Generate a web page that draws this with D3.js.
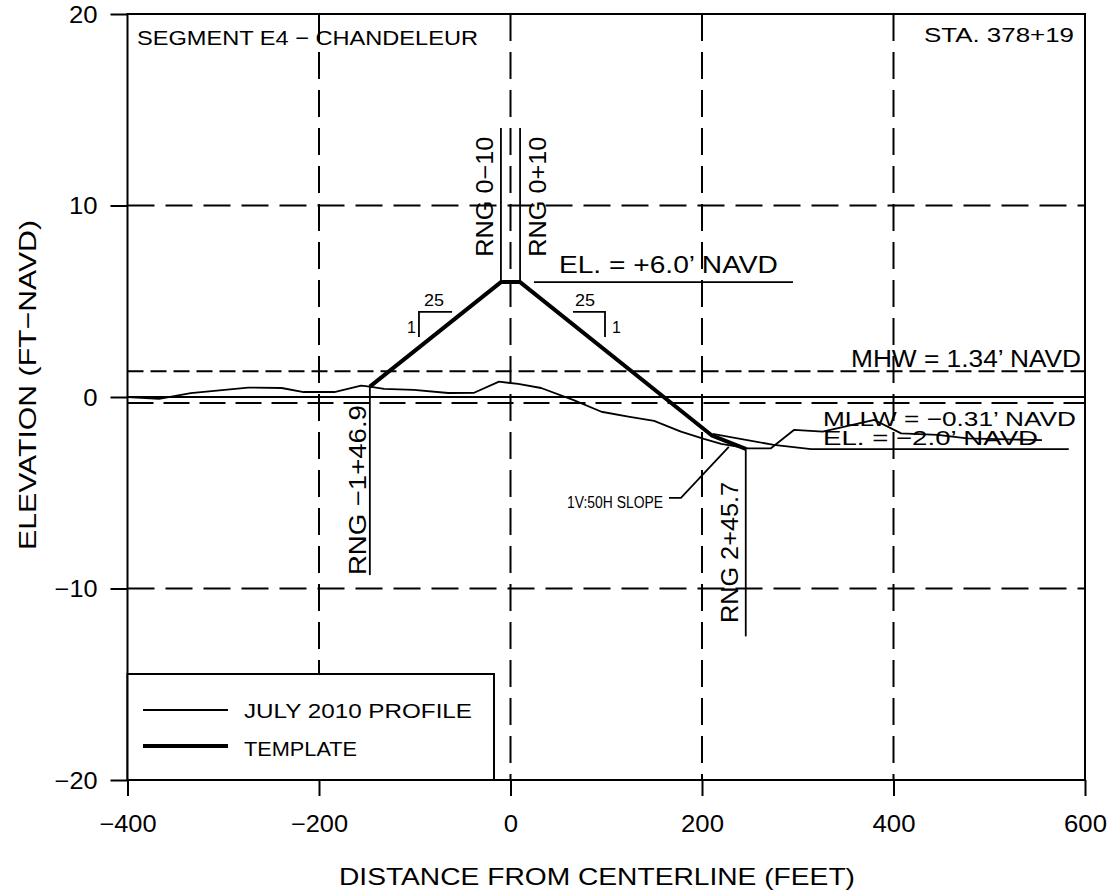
<!DOCTYPE html>
<html><head><meta charset="utf-8">
<script src="https://cdn.jsdelivr.net/npm/d3@7"></script>
<style>
body{margin:0;background:#fff}
svg{display:block}
text{font-family:"Liberation Sans",Arial,sans-serif;fill:#000}
</style>
</head><body><svg id="c" width="1109" height="894"></svg>
<script>
// ---- data ----
const xTicks = [-400, -200, 0, 200, 400, 600];
const yTicks = [-20, -10, 0, 10, 20];
const gridX = [-200, 0, 200, 400];
const gridY = [-10, 10];
const MHW = 1.34, MLLW = -0.31;

const profileX = [-400, -367, -334, -274, -239, -216, -184, -156, -147, -132, -101, -65, -38, -12, 8, 32, 66, 95, 123, 150, 178, 202, 220, 248, 272, 296, 326, 380, 408, 446, 477, 555];
const profileY = [0.0, -0.1, 0.2, 0.49, 0.47, 0.26, 0.26, 0.59, 0.54, 0.42, 0.37, 0.21, 0.22, 0.8, 0.68, 0.47, -0.16, -0.77, -1.03, -1.25, -1.81, -2.19, -2.45, -2.68, -2.68, -1.72, -1.81, -1.2, -1.9, -1.98, -2.16, -2.25];

const toeX = [211, 275, 314, 583];
const toeY = [-1.93, -2.5, -2.72, -2.72];

const templateX = [-146.9, -10, 10, 210, 245.7];
const templateY = [0.54, 6, 6, -2, -2.71];

const rangeLines = [
  {x: -10, y0: 6, y1: 14.05},
  {x: 10, y0: 6, y1: 14.05},
  {x: -146.9, y0: 0.54, y1: -9.3},
  {x: 245.7, y0: -2.71, y1: -12.5}
];
const rangeLabels = [
  {t: "RNG 0\u221210", x: -18.3, y: 7.33, w: 120},
  {t: "RNG 0+10", x: 37.1, y: 7.33, w: 120},
  {t: "RNG \u22121+46.9", x: -150.9, y: -9.3, w: 170},
  {t: "RNG 2+45.7", x: 237.6, y: -11.8, w: 141}
];
const notes = [
  {t: "SEGMENT E4 \u2212 CHANDELEUR", x: -390.1, y: 18.38, w: 341, fs: 21},
  {t: "STA. 378+19", x: 431.9, y: 18.54, w: 150, fs: 21},
  {t: "EL. = +6.0\u2019 NAVD", x: 50.6, y: 6.48, w: 219, fs: 23},
  {t: "MHW = 1.34\u2019 NAVD", x: 355.6, y: 1.57, w: 230, fs: 23},
  {t: "MLLW = \u22120.31\u2019 NAVD", x: 326.4, y: -1.51, w: 253, fs: 21},
  {t: "EL. = \u22122.0\u2019 NAVD", x: 326.4, y: -2.51, w: 215, fs: 21},
  {t: "1V:50H  SLOPE", x: 59, y: -5.8, w: 96, fs: 16},
  {t: "25", x: -90.3, y: 4.75, w: 20, fs: 16},
  {t: "1", x: -108, y: 3.34, w: 0, fs: 16},
  {t: "25", x: 67.4, y: 4.75, w: 20, fs: 16},
  {t: "1", x: 106, y: 3.34, w: 0, fs: 16}
];
const leaderX = [165.5, 178, 228];
const leaderY = [-5.27, -5.27, -2.61];
const elUnderline = [[24.5, 6], [295, 6]];
const bracketL = [[-95.6, 3.13], [-95.6, 4.44], [-61, 4.44]];
const bracketR = [[65.3, 4.44], [98.7, 4.44], [98.7, 3.13]];

// ---- chart ----
const svg = d3.select("#c");
const x = d3.scaleLinear().domain([-400, 600]).range([127.5, 1085]);
const y = d3.scaleLinear().domain([-20, 20]).range([780, 14]);
const line = d3.line().x(d => x(d[0])).y(d => y(d[1]));
const zip = (a, b) => a.map((v, i) => [v, b[i]]);
const fmt = d => d < 0 ? "\u2212" + Math.abs(d) : String(d);

// grid
svg.append("g").selectAll("line").data(gridX).join("line")
  .attr("x1", d => x(d)).attr("x2", d => x(d)).attr("y1", y(20)).attr("y2", y(-20))
  .attr("stroke", "#000").attr("stroke-width", 2).attr("stroke-dasharray", "27,11");
svg.append("g").selectAll("line").data(gridY).join("line")
  .attr("x1", x(-400)).attr("x2", x(600)).attr("y1", d => y(d)).attr("y2", d => y(d))
  .attr("stroke", "#000").attr("stroke-width", 2).attr("stroke-dasharray", "27,11");
// water levels
svg.append("line").attr("x1", x(-400)).attr("x2", x(600)).attr("y1", y(MHW)).attr("y2", y(MHW))
  .attr("stroke", "#000").attr("stroke-width", 2).attr("stroke-dasharray", "16,7");
svg.append("line").attr("x1", x(-400)).attr("x2", x(600)).attr("y1", y(MLLW)).attr("y2", y(MLLW))
  .attr("stroke", "#000").attr("stroke-width", 2).attr("stroke-dasharray", "26,10");
// zero line
svg.append("line").attr("x1", x(-400)).attr("x2", x(600)).attr("y1", y(0)).attr("y2", y(0))
  .attr("stroke", "#000").attr("stroke-width", 2);

// axes
const gx = svg.append("g").attr("transform", `translate(0,${y(-20)})`)
  .call(d3.axisBottom(x).tickValues(xTicks).tickSize(16).tickFormat(fmt));
gx.select(".domain").remove();
gx.selectAll("line").attr("stroke-width", 2);
gx.selectAll("text").attr("y", 52).attr("dy", 0)
  .attr("textLength", d => fmt(d).length * 14.3).attr("lengthAdjust", "spacingAndGlyphs")
  .style("font-size", "23px").style("font-family", '"Liberation Sans",Arial,sans-serif');
const gy = svg.append("g").attr("transform", `translate(${x(-400)},0)`)
  .call(d3.axisLeft(y).tickValues(yTicks).tickSize(17).tickFormat(fmt));
gy.select(".domain").remove();
gy.selectAll("line").attr("stroke-width", 2);
gy.selectAll("text").attr("x", -30).attr("dy", "0.36em")
  .attr("textLength", d => fmt(d).length * 14.3).attr("lengthAdjust", "spacingAndGlyphs")
  .style("font-size", "23px").style("font-family", '"Liberation Sans",Arial,sans-serif');

// frame
svg.append("rect").attr("x", x(-400)).attr("y", y(20)).attr("width", x(600) - x(-400)).attr("height", y(-20) - y(20))
  .attr("fill", "none").attr("stroke", "#000").attr("stroke-width", 2);

// profile, toe line, template
svg.append("path").attr("d", line(zip(profileX, profileY))).attr("fill", "none").attr("stroke", "#000").attr("stroke-width", 1.8).attr("stroke-linejoin", "round");
svg.append("path").attr("d", line(zip(toeX, toeY))).attr("fill", "none").attr("stroke", "#000").attr("stroke-width", 1.8);
svg.append("path").attr("d", line(zip(templateX, templateY))).attr("fill", "none").attr("stroke", "#000").attr("stroke-width", 4).attr("stroke-linejoin", "round");

// range lines & labels
svg.append("g").selectAll("line").data(rangeLines).join("line")
  .attr("x1", d => x(d.x)).attr("x2", d => x(d.x)).attr("y1", d => y(d.y0)).attr("y2", d => y(d.y1))
  .attr("stroke", "#000").attr("stroke-width", 1.8);
svg.append("g").selectAll("text").data(rangeLabels).join("text")
  .attr("transform", d => `translate(${x(d.x)},${y(d.y)}) rotate(-90)`)
  .attr("textLength", d => d.w).attr("lengthAdjust", "spacingAndGlyphs")
  .style("font-size", "23px").text(d => d.t);

// annotations
const nt = svg.append("g").selectAll("text").data(notes).join("text")
  .attr("x", d => x(d.x)).attr("y", d => y(d.y))
  .style("font-size", d => d.fs + "px").text(d => d.t);
nt.filter(d => d.w > 0).attr("textLength", d => d.w).attr("lengthAdjust", "spacingAndGlyphs");
svg.append("path").attr("d", line(zip(leaderX, leaderY))).attr("fill", "none").attr("stroke", "#000").attr("stroke-width", 1.8);
svg.append("path").attr("d", line(elUnderline)).attr("fill", "none").attr("stroke", "#000").attr("stroke-width", 1.8);
svg.append("path").attr("d", line(bracketL)).attr("fill", "none").attr("stroke", "#000").attr("stroke-width", 1.8);
svg.append("path").attr("d", line(bracketR)).attr("fill", "none").attr("stroke", "#000").attr("stroke-width", 1.8);

// legend
const lg = svg.append("g");
lg.append("rect").attr("x", x(-400)).attr("y", 674).attr("width", 494 - x(-400)).attr("height", y(-20) - 674)
  .attr("fill", "#fff").attr("stroke", "#000").attr("stroke-width", 2);
const legendItems = [{t: "JULY 2010 PROFILE", w: 228, sw: 1.8, ly: 710, ty: 718}, {t: "TEMPLATE", w: 113, sw: 4, ly: 746, ty: 756}];
legendItems.forEach(d => {
  lg.append("line").attr("x1", 143).attr("x2", 228).attr("y1", d.ly).attr("y2", d.ly).attr("stroke", "#000").attr("stroke-width", d.sw);
  lg.append("text").attr("x", 244).attr("y", d.ty).attr("textLength", d.w).attr("lengthAdjust", "spacingAndGlyphs").style("font-size", "21px").text(d.t);
});

// axis titles
svg.append("text").attr("x", 597).attr("y", 885).attr("text-anchor", "middle")
  .attr("textLength", 516).attr("lengthAdjust", "spacingAndGlyphs").style("font-size", "24px").text("DISTANCE FROM CENTERLINE (FEET)");
svg.append("text").attr("transform", "translate(36,385) rotate(-90)").attr("text-anchor", "middle")
  .attr("textLength", 330).attr("lengthAdjust", "spacingAndGlyphs").style("font-size", "24px").text("ELEVATION (FT\u2212NAVD)");
</script>
</body></html>
